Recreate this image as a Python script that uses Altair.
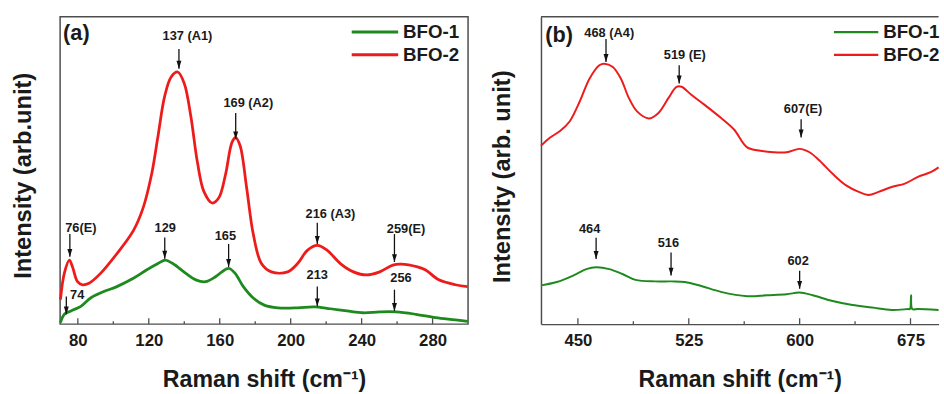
import altair as alt
import pandas as pd

FONT = "Liberation Sans"
RED = "#EE1B1B"
GREEN = "#1E8A1E"
INK = "#1a1a1a"
FRAME = "#4d4d4d"

# ---------------- panel (a) data ----------------
a_red_x = [70.2, 72.4, 75.2, 77.0, 79.8, 82.6, 86.3, 92.8, 102.0, 111.3, 116.8, 121.5, 125.2, 128.9,
           132.6, 136.3, 140.0, 143.7, 147.4, 151.1, 155.7, 159.4, 163.2, 166.9, 169.0, 171.5, 175.2,
           178.9, 183.5, 189.1, 198.3, 203.9, 209.4, 215.0, 220.6, 228.0, 235.4, 242.8, 250.2, 257.6,
           262.2, 271.5, 276.1, 283.5, 292.8, 299.8]
a_red_y = [8.0, 16.6, 20.8, 18.6, 13.8, 12.8, 13.3, 16.5, 22.9, 30.4, 37.8, 48.5, 61.2, 74.0,
           80.4, 82.0, 78.3, 67.6, 52.7, 43.1, 39.4, 41.0, 48.5, 59.1, 60.7, 58.0, 44.2,
           29.3, 19.7, 17.0, 17.0, 19.7, 24.0, 25.6, 24.0, 19.7, 17.0, 16.0, 17.0, 19.2,
           19.5, 18.6, 17.6, 14.4, 12.8, 12.2]
a_green_x = [70.2, 72.4, 76.1, 81.7, 87.2, 94.6, 102.0, 111.3, 118.7, 125.2, 129.3, 133.5, 140.9,
             146.5, 152.0, 157.6, 163.2, 165.4, 168.7, 173.3, 178.9, 185.4, 192.8, 203.9, 213.2,
             222.4, 231.7, 240.9, 250.2, 259.4, 270.6, 281.7, 292.8, 299.8]
a_green_y = [0.5, 3.2, 4.3, 5.8, 8.5, 10.6, 12.2, 14.9, 17.6, 19.7, 20.8, 19.7, 16.5,
             14.4, 13.8, 15.4, 17.8, 18.1, 16.5, 12.2, 8.5, 6.1, 5.3, 5.3, 5.6,
             5.0, 4.3, 3.7, 4.0, 4.0, 3.2, 2.1, 1.4, 0.9]

a_ann_label = ["137 (A1)", "169 (A2)", "76(E)", "129", "165", "216 (A3)", "259(E)", "213", "256", "74"]
a_ann_text_x = [141.8, 176.1, 81.7, 129.3, 163.2, 222.4, 265.0, 215.0, 262.2, 79.6]
a_ann_text_y = [93.8, 72.0, 31.1, 31.1, 28.8, 35.7, 30.9, 16.0, 14.9, 9.6]
a_ann_peak = [137, 169, 75.5, 129, 165, 215, 258.5, 215, 258.5, 73.5]
a_ann_top = [89.5, 68.7, 29.3, 28.2, 26.1, 33.0, 29.3, 12.2, 11.2, 9.0]
a_ann_tip = [83.1, 60.1, 21.9, 21.3, 18.6, 26.1, 20.2, 5.8, 4.3, 3.2]

a_major = [80, 120, 160, 200, 240, 280]
a_minor = [100, 140, 180, 220, 260]

# ---------------- panel (b) data ----------------
b_red_x = [425.0, 431.2, 437.9, 444.5, 451.2, 457.9, 464.5, 467.9, 473.4, 479.0, 484.5, 490.0,
           497.9, 504.5, 511.2, 516.7, 520.1, 526.7, 535.5, 546.7, 555.6, 564.5, 573.4, 582.3,
           591.2, 600.0, 606.7, 613.4, 622.3, 631.2, 640.0, 646.7, 653.4, 662.3, 671.2, 680.0,
           689.0, 694.0]
b_red_y = [58.0, 60.7, 62.8, 66.0, 72.4, 79.9, 84.2, 84.7, 83.7, 79.9, 73.5, 69.2,
           66.9, 68.7, 73.5, 77.2, 77.2, 74.6, 71.4, 67.1, 63.3, 57.5, 56.4, 55.9,
           55.9, 57.0, 55.9, 53.2, 48.9, 45.2, 43.0, 42.0, 43.0, 44.6, 45.7, 47.9,
           49.5, 51.0]
b_green_x = [425.0, 435.7, 446.8, 455.7, 462.3, 471.2, 480.1, 489.0, 502.3, 513.4, 522.3, 533.4,
             546.7, 564.5, 577.8, 591.2, 600.0, 608.9, 622.3, 635.7, 649.0, 662.3, 673.4,
             674.6, 675.4, 676.2, 680.0, 694.0]
b_green_y = [12.6, 13.7, 15.8, 17.9, 18.5, 17.9, 16.3, 14.4, 13.9, 13.9, 13.7, 12.4,
             10.5, 9.1, 9.4, 9.7, 10.3, 9.4, 7.5, 6.2, 5.4, 4.6, 4.9,
             4.9, 9.4, 4.9, 4.9, 4.6]

b_ann_label = ["468 (A4)", "519 (E)", "607(E)", "464", "516", "602"]
b_ann_text_x = [471.2, 522.3, 602.3, 457.9, 511.2, 599.0]
b_ann_text_y = [94.6, 87.4, 69.8, 30.8, 26.5, 20.6]
b_ann_peak = [469, 518.5, 601, 462.3, 513, 600]
b_ann_top = [92.7, 84.2, 66.6, 28.1, 23.3, 17.4]
b_ann_tip = [85.3, 78.3, 60.7, 21.2, 15.8, 11.5]

b_major = [450, 525, 600, 675]
b_minor = [487.5, 562.5, 637.5]

series = ["BFO-1", "BFO-2"]
colors = [GREEN, RED]

H = 312
W_A = 414
W_B = 403.5
ARROW = "M-1,-3.2L1,-3.2L0,0Z"


def build(red_x, red_y, green_x, green_y, labels, tx, ty, peak, top, tip,
          major, minor, domain, width, title_y_text, title_x_off, title_y_pos,
          leg_x1, leg_x2, leg_tx, leg_y, panel_label, panel_lx, panel_ly, lw, leg_lw, framed):
    x_scale = alt.Scale(domain=domain, nice=False, zero=False)
    y_scale = alt.Scale(domain=[0, 100], nice=False, zero=False)
    x_axis = alt.Axis(values=major, ticks=False, grid=False, domain=not framed,
                      domainColor=FRAME, domainWidth=1.5,
                      labelFont=FONT, labelFontSize=17, labelFontWeight="bold", labelColor=INK,
                      labelPadding=9, labelFlush=False,
                      title="Raman shift (cm\u207b\u00b9)", titleFont=FONT, titleFontSize=23.5,
                      titleFontWeight="bold", titleColor=INK, titleY=63,
                      titleBaseline="alphabetic", titleX=width / 2, titleAlign="center")
    y_axis = alt.Axis(labels=False, ticks=False, grid=False, domain=not framed,
                      domainColor=FRAME, domainWidth=1.5,
                      title=title_y_text, titleFont=FONT, titleFontSize=24,
                      titleFontWeight="bold", titleColor=INK, titleAngle=270,
                      titleAlign="center", titleBaseline="middle",
                      titleX=title_x_off, titleY=title_y_pos)

    def X(f):
        return alt.X(f, type="quantitative", scale=x_scale, axis=x_axis)

    def Y(f):
        return alt.Y(f, type="quantitative", scale=y_scale, axis=y_axis)

    color = alt.Color("series:N", scale=alt.Scale(domain=series, range=colors), legend=None)

    lines = pd.concat([
        pd.DataFrame({"x": green_x, "y": green_y, "series": "BFO-1", "o": range(len(green_x))}),
        pd.DataFrame({"x": red_x, "y": red_y, "series": "BFO-2", "o": range(len(red_x))}),
    ])
    line_layer = alt.Chart(lines).mark_line(strokeWidth=lw, interpolate="catmull-rom").encode(
        x=X("x"), y=Y("y"), color=color, order="o:Q", detail="series:N")

    leg = pd.DataFrame({"series": series, "x": [leg_x1] * 2, "x2": [leg_x2] * 2,
                        "tx": [leg_tx] * 2, "y": leg_y})
    leg_lines = alt.Chart(leg).mark_rule(strokeWidth=leg_lw).encode(
        x=X("x"), x2="x2:Q", y=Y("y"), color=color)
    leg_text = alt.Chart(leg).mark_text(align="left", baseline="middle", font=FONT, fontSize=19,
                                        fontWeight="bold", color=INK).encode(
        x=X("tx"), y=Y("y"), text="series:N")

    ann = pd.DataFrame({"label": labels, "tx": tx, "ty": ty, "peak": peak, "top": top, "tip": tip})
    ann_text = alt.Chart(ann).mark_text(align="center", baseline="middle", font=FONT, fontSize=13,
                                        fontWeight="bold", color=INK).encode(
        x=X("tx"), y=Y("ty"), text="label:N")
    shafts = alt.Chart(ann).mark_rule(strokeWidth=1.3, color="#111").encode(
        x=X("peak"), y=Y("top"), y2="tip:Q")
    heads = alt.Chart(ann).mark_point(shape=ARROW, filled=True, size=25, color="#111",
                                      opacity=1, strokeWidth=0).encode(
        x=X("peak"), y=Y("tip"))

    lab = pd.DataFrame({"t": [panel_label], "x": [panel_lx], "y": [panel_ly]})
    lab_text = alt.Chart(lab).mark_text(align="left", baseline="middle", font=FONT, fontSize=22,
                                        fontWeight="bold", color=INK).encode(
        x=X("x"), y=Y("y"), text="t:N")

    maj = alt.Chart(pd.DataFrame({"x": major})).mark_rule(strokeWidth=1.3, color=FRAME).encode(
        x=X("x"), y=alt.value(H), y2=alt.value(H - 6))
    mino = alt.Chart(pd.DataFrame({"x": minor})).mark_rule(strokeWidth=1.3, color=FRAME).encode(
        x=X("x"), y=alt.value(H), y2=alt.value(H - 3))

    layers = [line_layer, leg_lines, leg_text, ann_text, shafts, heads, lab_text, maj, mino]
    if not framed:
        top_border = alt.Chart(pd.DataFrame({"k": [0]})).mark_rule(
            strokeWidth=1.5, color=FRAME).encode(
            x=alt.value(0), x2=alt.value(width), y=alt.value(0))
        layers.append(top_border)
    ch = alt.layer(*layers).properties(width=width, height=H)
    if not framed:
        ch = ch.properties(view=alt.ViewBackground(stroke="transparent"))
    return ch


panel_a = build(a_red_x, a_red_y, a_green_x, a_green_y, a_ann_label, a_ann_text_x,
                a_ann_text_y, a_ann_peak, a_ann_top, a_ann_tip, a_major, a_minor,
                [70, 300], W_A, "Intensity (arb.unit)", -37, 161,
                234.4, 260.6, 263.3, [95.0, 87.6], "(a)", 71.7, 94.6, 2.8, 3, True)

panel_b = build(b_red_x, b_red_y, b_green_x, b_green_y, b_ann_label, b_ann_text_x,
                b_ann_text_y, b_ann_peak, b_ann_top, b_ann_tip, b_major, b_minor,
                [425, 694], W_B, "Intensity (arb. unit)", -38.7, 162,
                623.2, 653.2, 656.5, [95.0, 87.6], "(b)", 427.9, 94.0, 2.0, 2.2, False)

chart = alt.hconcat(panel_a, panel_b, spacing=16).properties(
    padding={"left": 11, "top": 12, "right": 0, "bottom": 0},
    background="white",
).configure_view(stroke=FRAME, strokeWidth=1.5)

chart.save("out.html", embed_options={"renderer": "svg", "actions": False})
